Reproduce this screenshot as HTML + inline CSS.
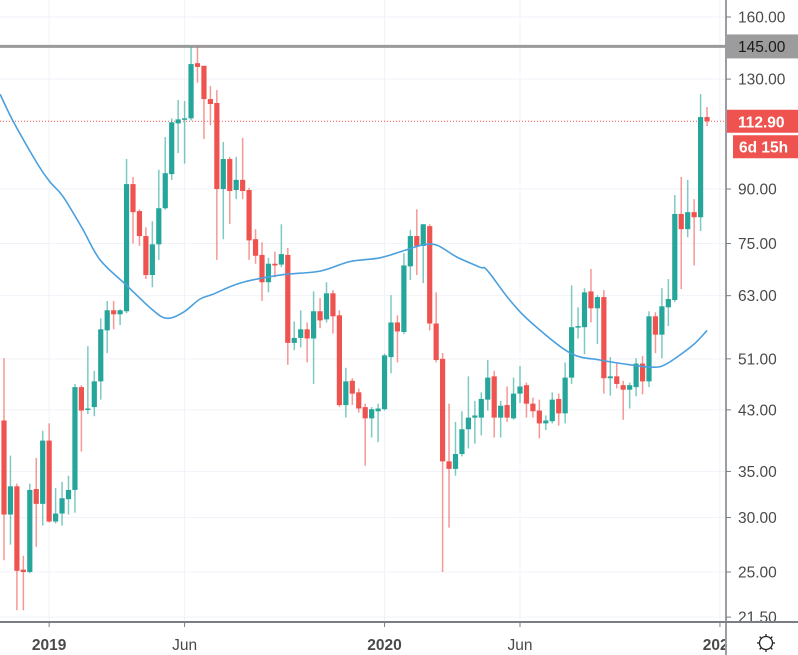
<!DOCTYPE html>
<html><head><meta charset="utf-8"><style>
html,body{margin:0;padding:0;background:#fff;width:798px;height:655px;overflow:hidden;font-family:"Liberation Sans",sans-serif}
svg{display:block}
</style></head><body>
<svg id="chart" width="798" height="655" viewBox="0 0 798 655" xmlns="http://www.w3.org/2000/svg">
<g id="grid"></g>
<g id="plot"></g>
<g id="axis"></g>
<g id="taxis"></g>
</svg>
<script>
const opens=[41.5,30.3,33.3,25.2,25.0,33.0,31.4,38.8,29.6,30.4,31.9,32.9,46.4,43.1,43.4,47.3,56.1,60.0,59.2,59.8,91.5,83.6,76.9,67.5,74.8,84.4,94.6,112.1,113.6,114.0,137.1,135.9,121.6,120.0,90.0,99.5,89.7,92.8,89.7,76.1,72.2,65.9,70.1,69.9,72.2,53.8,54.7,56.3,54.6,59.8,58.2,63.5,59.0,43.7,47.4,45.6,43.4,41.8,42.8,43.1,51.3,57.6,55.8,69.5,76.9,74.4,79.5,57.4,51.0,36.2,35.3,37.1,40.3,41.9,41.9,44.5,48.1,41.9,43.7,41.8,45.4,46.7,43.9,42.9,41.1,41.4,44.6,42.5,47.9,56.7,56.7,63.9,60.4,62.7,47.8,48.1,46.7,46.0,46.4,50.2,47.3,58.8,55.3,60.6,62.1,82.8,78.7,83.3,81.9,114.5];
const highs=[51.1,36.9,33.6,26.4,33.6,36.6,40.1,41.1,33.1,33.8,34.5,46.9,46.7,53.2,49.0,58.4,61.9,61.9,60.2,99.5,93.7,84.1,79.2,80.8,96.0,107.1,114.0,121.2,120.8,144.7,144.7,135.9,127.0,125.3,105.3,100.2,100.2,106.8,90.3,78.7,75.3,71.5,73.0,80.0,73.9,57.8,60.0,57.6,63.9,62.5,65.9,64.2,60.0,49.5,47.8,46.2,43.9,43.4,43.9,51.9,63.1,59.0,72.6,78.5,84.1,80.0,80.0,63.7,52.0,43.9,41.3,42.8,48.1,44.3,45.6,50.8,49.0,44.3,46.5,47.9,49.8,47.1,44.8,44.5,42.2,45.6,45.4,50.4,65.2,60.6,64.6,68.9,63.1,64.2,51.3,50.2,47.4,47.1,51.1,51.5,59.8,59.6,64.6,66.6,88.2,93.7,92.8,87.0,123.6,118.4];
const lows=[26.0,27.4,22.0,22.0,24.9,27.2,29.2,29.5,29.4,29.2,30.3,30.5,37.4,42.4,42.1,44.5,52.0,56.3,57.1,59.4,75.0,74.4,66.6,64.8,71.0,84.0,92.8,101.5,98.0,113.2,128.4,106.4,111.4,71.0,76.1,80.1,87.0,87.0,71.0,70.1,61.9,63.7,67.0,69.3,50.0,52.5,53.0,50.4,46.9,56.5,57.6,55.5,43.4,41.9,43.7,42.6,35.7,39.2,38.6,42.9,48.6,50.4,55.4,66.4,67.5,65.7,56.1,50.4,25.0,29.0,34.5,36.8,37.8,38.4,39.5,42.9,39.2,39.2,41.3,41.6,44.0,41.9,41.9,39.1,40.2,41.1,40.8,41.1,46.9,54.6,51.8,57.6,53.6,45.4,45.1,46.2,41.6,43.2,45.0,45.3,46.4,52.0,51.1,56.9,61.7,64.4,76.6,69.7,78.2,111.1];
const closes=[30.3,33.3,25.1,25.0,32.9,31.4,38.8,29.6,30.4,32.0,32.9,46.4,42.9,43.2,47.3,56.3,60.0,59.2,60.0,91.5,83.3,76.9,67.5,74.8,84.4,94.9,112.5,113.6,114.0,136.7,135.4,121.6,119.6,90.0,99.5,89.4,92.8,89.4,75.8,72.0,65.9,70.1,69.7,72.4,53.8,54.7,56.3,54.6,59.8,58.0,63.5,58.8,43.7,47.3,45.4,43.2,41.8,43.1,43.2,51.6,57.6,55.9,69.7,76.9,74.4,80.0,57.4,50.8,36.2,35.3,37.1,40.3,41.9,42.2,44.6,47.9,41.9,43.6,41.9,45.4,46.5,43.9,42.8,41.1,41.5,44.5,42.5,47.9,56.7,56.9,63.7,60.4,62.7,47.8,48.1,46.9,46.0,46.7,50.2,47.3,58.8,55.3,60.8,62.3,82.8,78.7,83.3,81.9,114.5,112.9];
const maIdx=[-0.6,1.4,5.1,7.1,9.1,12.2,14.9,19.1,23.1,25.3,27.8,30.4,32.4,36.6,42.8,49.0,53.6,58.3,62.5,64.8,67.1,70.2,73.8,74.9,78.4,81.9,87.8,92.4,97.1,100.6,102.8,106.8,109.0];
const maVal=[123.6,113.0,98.2,92.2,87.9,78.7,71.0,65.1,60.0,58.4,59.6,62.3,63.3,65.7,67.5,68.4,70.6,71.5,73.5,74.6,74.6,71.7,69.3,68.6,62.1,57.4,52.0,50.8,50.0,49.6,50.2,53.4,56.1];
const priceTicks=[160,130,112.9,90,75,63,51,43,35,30,25,21.5];
const tickLabels=["160.00","130.00","","90.00","75.00","63.00","51.00","43.00","35.00","30.00","25.00","21.50"];
const timeIdx=[7,28,59,80,111];
const timeLabels=["2019","Jun","2020","Jun","2021"];
const timeBold=[true,false,true,false,true];
const resistance=145;
const lastPrice=112.9;

const NS="http://www.w3.org/2000/svg";
const PLOT_W=725, PLOT_H=622;
function y(v){return 17+(Math.log(160)-Math.log(v))*299;}
function x(i){return 4+i*6.45;}
function mk(tag,attrs,parent){const e=document.createElementNS(NS,tag);for(const k in attrs)e.setAttribute(k,attrs[k]);parent.appendChild(e);return e;}
const grid=document.getElementById('grid'),plot=document.getElementById('plot'),axis=document.getElementById('axis'),taxis=document.getElementById('taxis');

priceTicks.forEach((t,k)=>{
  if(!tickLabels[k])return;
  const g=mk('line',{x1:0,x2:PLOT_W,y1:y(t),y2:y(t),stroke:'#f0f3fa','stroke-width':1},grid);
  
  
});
timeIdx.forEach(i=>{
  const g=mk('line',{x1:x(i),x2:x(i),y1:0,y2:PLOT_H,stroke:'#f0f3fa','stroke-width':1},grid);
  
  
});

const rl=mk('line',{x1:0,x2:PLOT_W,y1:y(resistance),y2:y(resistance),stroke:'#9a9a9a','stroke-width':3},plot);


const lp=mk('line',{x1:0,x2:PLOT_W,y1:y(lastPrice),y2:y(lastPrice),stroke:'#ef5350','stroke-width':1,'stroke-dasharray':'1 2'},plot);



for(let i=0;i<opens.length;i++){
  const up=closes[i]>=opens[i];
  const col=up?'#26a69a':'#ef5350';
  const g=mk('g',{},plot);
  
  
  const w=mk('line',{x1:x(i),x2:x(i),y1:y(highs[i]),y2:y(lows[i]),stroke:col,'stroke-width':1.5,'stroke-opacity':0.6},g);
  
  
  const top=y(Math.max(opens[i],closes[i])),bot=y(Math.min(opens[i],closes[i]));
  const b=mk('rect',{x:x(i)-2.6,y:top,width:5.2,height:Math.max(1.5,bot-top),fill:col},g);
  
  
}
// smooth MA via Catmull-Rom
const P=maIdx.map((i,k)=>[x(i),y(maVal[k])]);
let d='M'+P[0][0].toFixed(1)+' '+P[0][1].toFixed(1);
for(let k=0;k<P.length-1;k++){
  const p0=P[Math.max(0,k-1)],p1=P[k],p2=P[k+1],p3=P[Math.min(P.length-1,k+2)];
  const c1=[p1[0]+(p2[0]-p0[0])/6,p1[1]+(p2[1]-p0[1])/6];
  const c2=[p2[0]-(p3[0]-p1[0])/6,p2[1]-(p3[1]-p1[1])/6];
  d+=' C'+c1[0].toFixed(1)+' '+c1[1].toFixed(1)+' '+c2[0].toFixed(1)+' '+c2[1].toFixed(1)+' '+p2[0].toFixed(1)+' '+p2[1].toFixed(1);
}
const ma=mk('path',{d:d,fill:'none',stroke:'#4aa0de','stroke-width':1.6,'stroke-linejoin':'round'},plot);



mk('rect',{x:PLOT_W,y:0,width:73,height:655,fill:'#fff'},axis);
const al=mk('line',{x1:PLOT_W+1,x2:PLOT_W+1,y1:0,y2:655,stroke:'#7a7d86','stroke-width':1.5},axis);


priceTicks.forEach((t,k)=>{
  if(!tickLabels[k])return;
  mk('line',{x1:PLOT_W+1,x2:PLOT_W+6,y1:y(t),y2:y(t),stroke:'#7a7d86','stroke-width':1},axis);
  const tx=mk('text',{x:738,y:y(t)+5.5,'font-size':15.5,fill:'#4a4a4a'},axis);
  tx.textContent=tickLabels[k];
  
  
});
const rb=mk('rect',{x:727,y:y(resistance)-12,width:71,height:24,fill:'#9c9c9c'},axis);


const rt=mk('text',{x:738,y:y(resistance)+5.5,'font-size':15.5,fill:'#1a1a1a'},axis);
rt.textContent=resistance.toFixed(2);


const pb=mk('rect',{x:727,y:y(lastPrice)-11.5,width:71,height:23,fill:'#ef5350'},axis);


const pt=mk('text',{x:738,y:y(lastPrice)+6,'font-size':15.5,'font-weight':'bold',fill:'#fff'},axis);
pt.textContent=lastPrice.toFixed(2);


const cb=mk('rect',{x:733,y:y(lastPrice)+14,width:65,height:23,fill:'#ef5350'},axis);


const ct=mk('text',{x:739,y:y(lastPrice)+31,'font-size':15.5,'font-weight':'bold',fill:'#fff'},axis);
ct.textContent='6d 15h';



mk('rect',{x:0,y:PLOT_H,width:PLOT_W,height:33,fill:'#fff'},taxis);
const tl=mk('line',{x1:0,x2:798,y1:PLOT_H,y2:PLOT_H,stroke:'#7a7d86','stroke-width':2},taxis);


const clip=mk('clipPath',{id:'tclip'},taxis);
mk('rect',{x:0,y:PLOT_H,width:PLOT_W,height:40},clip);
timeIdx.forEach((i,k)=>{
  mk('line',{x1:x(i),x2:x(i),y1:PLOT_H,y2:PLOT_H+5,stroke:'#7a7d86','stroke-width':1},taxis);
  const tx=mk('text',{x:x(i),y:650,'font-size':15.5,'text-anchor':'middle',fill:'#4a4a4a','font-weight':timeBold[k]?'bold':'normal','clip-path':'url(#tclip)'},taxis);
  tx.textContent=timeLabels[k];
  
  
});
const gear=mk('g',{transform:'translate(766,643)'},taxis);


mk('circle',{cx:0,cy:0,r:6.5,fill:'none',stroke:'#222','stroke-width':1.3},gear);
for(let a=0;a<8;a++){const r=a*Math.PI/4;mk('line',{x1:Math.cos(r)*6.5,y1:Math.sin(r)*6.5,x2:Math.cos(r)*9,y2:Math.sin(r)*9,stroke:'#222','stroke-width':1.3},gear);}
</script>
</body></html>
